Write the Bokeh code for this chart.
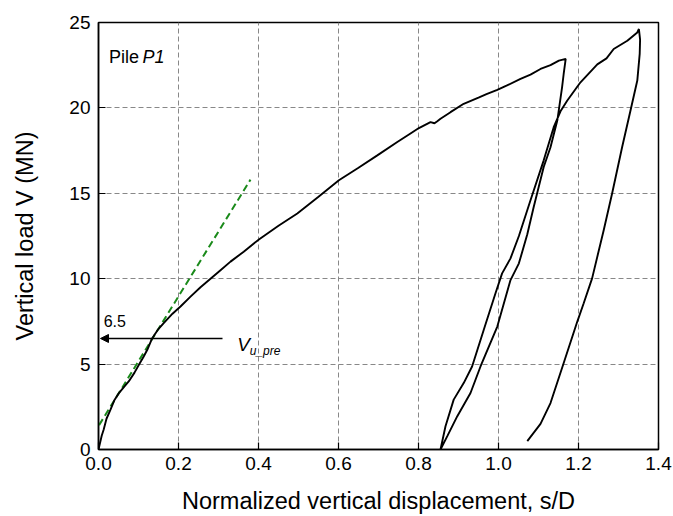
from bokeh.plotting import figure
from bokeh.models import Label, Arrow, NormalHead, Range1d, FixedTicker
from bokeh.embed import file_html
from bokeh.resources import INLINE

# Load-displacement record (loading, unloading, reloading, unloading)
disp = [0.0, 0.008, 0.013, 0.02, 0.03, 0.04, 0.051, 0.065, 0.076, 0.09, 0.101, 0.112, 0.122,
        0.134, 0.148, 0.163, 0.185, 0.205, 0.23, 0.255, 0.28, 0.305, 0.33, 0.363, 0.401,
        0.45, 0.497, 0.55, 0.601, 0.65, 0.697, 0.747, 0.78, 0.801, 0.83, 0.84, 0.847, 0.855,
        0.88, 0.913, 0.95, 0.97, 0.997, 1.02, 1.055, 1.08, 1.105, 1.13, 1.151, 1.168,
        # unloading 1
        1.163, 1.159, 1.147, 1.13, 1.113, 1.088, 1.072, 1.051, 1.03, 0.997, 0.955, 0.93,
        0.897, 0.872, 0.855,
        # reloading
        0.8675, 0.888, 0.913, 0.934, 0.963, 0.9925, 1.009, 1.03, 1.051, 1.08, 1.113, 1.138,
        1.155, 1.172, 1.205, 1.247, 1.27, 1.288, 1.322, 1.347, 1.351,
        # unloading 2
        1.354, 1.353, 1.347, 1.33, 1.309, 1.284, 1.263, 1.234, 1.213, 1.197, 1.163, 1.13,
        1.105, 1.072]
load = [0.0, 0.8, 1.17, 1.8, 2.33, 2.9, 3.3, 3.7, 4.0, 4.5, 4.96, 5.4, 5.84,
        6.5, 7.0, 7.4, 7.95, 8.37, 8.95, 9.5, 10.0, 10.5, 11.0, 11.58, 12.3,
        13.1, 13.82, 14.8, 15.76, 16.5, 17.22, 18.0, 18.5, 18.82, 19.17, 19.1, 19.22, 19.36,
        19.75, 20.24, 20.6, 20.8, 21.05, 21.3, 21.7, 21.95, 22.28, 22.5, 22.77, 22.87,
        22.0, 21.21, 19.26, 17.7, 16.54, 14.2, 12.6, 10.9, 9.92, 7.2, 4.86, 3.31,
        1.95, 0.78, 0.0,
        1.36, 2.92, 3.89, 4.86, 7.0, 9.15, 10.31, 11.19, 12.5, 14.59, 16.93, 18.87,
        19.8, 20.43, 21.5, 22.55, 22.9, 23.45, 23.93, 24.42, 24.62,
        24.0, 23.16, 21.6, 19.85, 17.7, 14.99, 12.84, 10.02, 8.56, 7.49, 5.06, 2.72,
        1.5, 0.49]

# Initial-stiffness line (green dashed)
tangent_x = [-0.013, 0.38]
tangent_y = [0.88, 15.8]

v_pre = 6.5
x_ticks = [0.0, 0.2, 0.4, 0.6, 0.8, 1.0, 1.2, 1.4]
y_ticks = [0, 5, 10, 15, 20, 25]

FONT = "Liberation Sans"

p = figure(width=673, height=516, output_backend="svg", toolbar_location=None,
           x_range=Range1d(0, 1.4), y_range=Range1d(0, 25),
           min_border_left=98, min_border_right=15, min_border_top=22, min_border_bottom=66)

p.background_fill_color = "white"
p.border_fill_color = "white"
p.outline_line_color = "black"
p.outline_line_width = 1.5

p.xaxis.ticker = FixedTicker(ticks=x_ticks)
p.yaxis.ticker = FixedTicker(ticks=y_ticks)
p.xaxis.major_label_overrides = {t: f"{t:.1f}" for t in x_ticks}
for ax in (p.xaxis, p.yaxis):
    ax.major_tick_in = 7
    ax.major_tick_out = 0
    ax.minor_tick_line_color = None
    ax.axis_line_color = "black"
    ax.axis_line_width = 1.5
    ax.major_tick_line_color = "black"
    ax.major_tick_line_width = 1.2
    ax.major_label_text_font = FONT
    ax.major_label_text_font_size = "19px"
    ax.major_label_text_color = "black"
    ax.axis_label_text_font = FONT
    ax.axis_label_text_font_size = "23.5px"
    ax.axis_label_text_font_style = "normal"
    ax.axis_label_text_color = "black"
p.xaxis.major_label_standoff = 7
p.yaxis.major_label_standoff = 8

p.yaxis.axis_label = "Vertical load V (MN)"
p.yaxis.axis_label_standoff = 28
p.xaxis.axis_label = "Normalized vertical displacement, s/D"
p.xaxis.axis_label_standoff = 15

for g in (p.xgrid, p.ygrid):
    g.grid_line_color = "#888888"
    g.grid_line_dash = "5 3"
    g.grid_line_width = 1

p.line(tangent_x, tangent_y, line_color="#1a8a1a", line_width=2, line_dash="7 4")
p.line(disp, load, line_color="black", line_width=1.9)

p.add_layout(Arrow(end=NormalHead(size=8, fill_color="black", line_color="black"),
                   x_start=0.31, y_start=v_pre, x_end=0.005, y_end=v_pre,
                   line_color="black", line_width=1.5))

def lab(x, y, text, size, style="normal", align="left"):
    p.add_layout(Label(x=x, y=y, text=text, text_font=FONT, text_font_size=size,
                       text_font_style=style, text_align=align, text_baseline="alphabetic",
                       text_color="black"))

lab(0.013, 7.54, f"{v_pre}", "16px")
lab(0.347, 6.15, "V", "19px", "italic")
lab(0.378, 5.75, "u_pre", "12px", "italic")
lab(0.026, 22.97, "Pile", "18px")
lab(0.11, 22.97, "P1", "18px", "italic")

open("out.html", "w").write(file_html(p, INLINE))
